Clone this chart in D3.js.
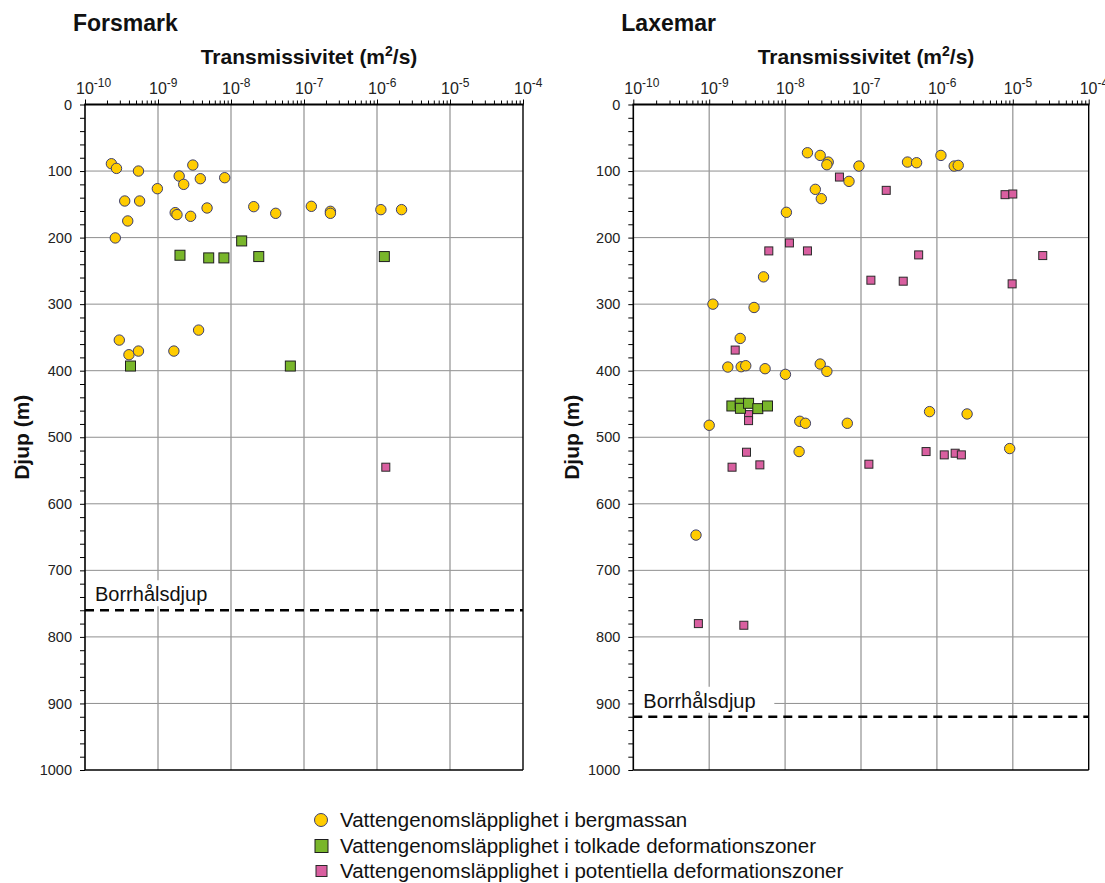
<!DOCTYPE html>
<html>
<head>
<meta charset="utf-8">
<script src="https://cdn.jsdelivr.net/npm/d3@7"></script>
<style>
  html, body { margin: 0; padding: 0; background: #fff; }
  svg { display: block; font-family: "Liberation Sans", Arial, Helvetica, sans-serif; }
</style>
</head>
<body>
<svg id="chart" width="1105" height="883"></svg>
<script>
// ---------- DATA: [transmissivity (m2/s), depth (m)] ----------
const forsmarkRock = [
  [2.3e-10, 89], [2.7e-10, 96], [5.4e-10, 100], [3.0e-9, 91], [1.95e-9, 107.5],
  [2.25e-9, 120], [3.8e-9, 111.5], [8.2e-9, 110], [9.8e-10, 126.5], [3.5e-10, 145],
  [5.6e-10, 145], [1.72e-9, 162.5], [1.82e-9, 165.5], [2.8e-9, 168], [4.7e-9, 155.5],
  [3.85e-10, 175], [2.05e-8, 153.5], [4.1e-8, 163.5], [1.26e-7, 153], [2.3e-7, 160.5],
  [2.3e-7, 163.5], [1.13e-6, 158], [2.17e-6, 158], [2.6e-10, 200.5],
  [2.95e-10, 354], [4.0e-10, 376], [5.4e-10, 370.5], [1.65e-9, 370.5], [3.6e-9, 339]
];
const forsmarkZones = [
  [2.0e-9, 226.5], [4.95e-9, 230.5], [8.0e-9, 230.5], [1.4e-8, 205], [2.4e-8, 228.5],
  [1.26e-6, 228.5], [4.2e-10, 393], [6.5e-8, 393]
];
const forsmarkPotential = [
  [1.32e-6, 545]
];
const laxemarRock = [
  [1.97e-8, 72.5], [2.9e-8, 76.5], [3.7e-8, 86.5], [3.55e-8, 90.5], [9.4e-8, 92.5],
  [6.95e-8, 115.5], [2.5e-8, 127.5], [3.0e-8, 141.5], [1.04e-8, 162], [4.1e-7, 86.5],
  [5.4e-7, 87.5], [1.13e-6, 76.5], [1.69e-6, 92.5], [1.91e-6, 91.5], [5.2e-9, 259],
  [1.12e-9, 300], [3.9e-9, 305], [2.56e-9, 351.5], [1.76e-9, 394.5], [2.64e-9, 394],
  [3.03e-9, 392.5], [5.45e-9, 397], [1.01e-8, 405.5], [2.9e-8, 390], [3.55e-8, 401],
  [1.0e-9, 482], [1.56e-8, 476], [1.85e-8, 479], [6.6e-8, 479], [8.0e-7, 461.5],
  [2.5e-6, 465], [1.53e-8, 521.5], [9.1e-6, 517], [6.7e-10, 647]
];
const laxemarZones = [
  [1.99e-9, 453], [2.56e-9, 449], [2.58e-9, 456.5], [3.3e-9, 449], [4.37e-9, 457], [5.86e-9, 453]
];
const laxemarPotential = [
  [5.2e-8, 109], [2.15e-7, 129], [7.9e-6, 135.5], [1.0e-5, 134.5], [6.1e-9, 220],
  [1.14e-8, 208], [1.97e-8, 220], [5.75e-7, 226], [2.48e-5, 227], [1.35e-7, 264],
  [3.6e-7, 265.5], [9.8e-6, 269.5], [2.2e-9, 369], [3.3e-9, 466], [3.3e-9, 475],
  [3.1e-9, 522.5], [7.2e-7, 521.5], [1.25e-6, 526.5], [1.74e-6, 524], [2.1e-6, 526.5],
  [2.0e-9, 545], [4.65e-9, 541.5], [1.27e-7, 540.5], [7.2e-10, 780], [2.86e-9, 782.5]
];
const boreholeDepth = { Forsmark: 760, Laxemar: 920 };
const decadeExponents = [-10, -9, -8, -7, -6, -5, -4];
const depthTicks = [0, 100, 200, 300, 400, 500, 600, 700, 800, 900, 1000];
const legendLabels = [
  "Vattengenomsläpplighet i bergmassan",
  "Vattengenomsläpplighet i tolkade deformationszoner",
  "Vattengenomsläpplighet i potentiella deformationszoner"
];

// ---------- STYLE ----------
const C = {
  rock: "#FFCC00", rockStroke: "#3d3f6e",
  zone: "#79B62B", zoneStroke: "#1e1e1e",
  pot: "#D95FA0", potStroke: "#2a2a2a",
  grid: "#8f8f8f"
};
const FONT = '"Liberation Sans", Arial, Helvetica, sans-serif';

const svg = d3.select("#chart");

const panels = [
  { name: "Forsmark", x0: 85, x1: 523, rock: forsmarkRock, zones: forsmarkZones, pot: forsmarkPotential, ylabX: 22 },
  { name: "Laxemar", x0: 633.3, x1: 1088.7, rock: laxemarRock, zones: laxemarZones, pot: laxemarPotential, ylabX: 572 }
];
const yTop = 104.5, yBot = 770;

panels.forEach(p => {
  const g = svg.append("g");
  const x = d3.scaleLog().domain([1e-10, 1e-4]).range([p.x0, p.x1]);
  const y = d3.scaleLinear().domain([0, 1000]).range([yTop, yBot]);

  // gridlines
  g.append("g").selectAll("line.h").data(depthTicks.filter(d => d > 0 && d < 1000)).join("line")
    .attr("x1", p.x0).attr("x2", p.x1).attr("y1", d => y(d)).attr("y2", d => y(d))
    .attr("stroke", C.grid).attr("stroke-width", 1);
  g.append("g").selectAll("line.v").data(decadeExponents.slice(1, -1)).join("line")
    .attr("x1", d => x(Math.pow(10, d))).attr("x2", d => x(Math.pow(10, d)))
    .attr("y1", yTop).attr("y2", yBot)
    .attr("stroke", "#9a9a9a").attr("stroke-width", 1.3);

  // borehole depth label with white box
  const bd = boreholeDepth[p.name];
  g.append("rect").attr("x", p.x0 + 1).attr("y", y(bd) - 30).attr("width", 140).attr("height", 26).attr("fill", "#fff");
  g.append("text").attr("x", p.x0 + 10).attr("y", y(bd) - 9)
    .attr("font-size", 20).attr("fill", "#111").text("Borrhålsdjup");
  g.append("line").attr("x1", p.x0).attr("x2", p.x1).attr("y1", y(bd)).attr("y2", y(bd))
    .attr("stroke", "#000").attr("stroke-width", 2.6).attr("stroke-dasharray", "9,6");

  // top axis (minor + major ticks)
  const minor = [];
  for (let e = -10; e < -4; e++) for (let m = 1; m <= 9; m++) minor.push(m * Math.pow(10, e));
  minor.push(1e-4);
  const topAxis = d3.axisTop(x).tickValues(minor).tickFormat("").tickSize(4).tickSizeOuter(0);
  const ta = g.append("g").attr("transform", `translate(0,${yTop})`).call(topAxis);
  ta.select(".domain").remove();
  ta.selectAll(".tick line").attr("stroke", "#000").attr("stroke-width", 1)
    .attr("y2", d => (Math.abs(Math.log10(d) - Math.round(Math.log10(d))) < 1e-9) ? -5 : -4);

  // decade labels
  decadeExponents.forEach(e => {
    const t = g.append("text").attr("x", x(Math.pow(10, e)) - 9).attr("y", 94)
      .attr("font-size", 16).attr("fill", "#222");
    t.append("tspan").text("10");
    t.append("tspan").attr("dy", -7).attr("font-size", 12).text(String(e));
  });

  // left axis
  const leftAxis = d3.axisLeft(y).tickValues(d3.range(0, 1001, 20))
    .tickFormat(d => d % 100 === 0 ? d : "").tickSize(5).tickPadding(8).tickSizeOuter(0);
  const la = g.append("g").attr("transform", `translate(${p.x0},0)`).call(leftAxis);
  la.select(".domain").remove();
  la.selectAll(".tick line").attr("stroke", "#000").attr("stroke-width", 1);
  la.selectAll(".tick text").attr("font-size", 14.5).attr("font-family", FONT).attr("fill", "#222");

  // frame
  g.append("line").attr("x1", p.x0).attr("x2", p.x0).attr("y1", yTop).attr("y2", yBot).attr("stroke", "#000").attr("stroke-width", 1.6);
  g.append("line").attr("x1", p.x1).attr("x2", p.x1).attr("y1", yTop).attr("y2", yBot).attr("stroke", "#000").attr("stroke-width", 1.4);
  g.append("line").attr("x1", p.x0).attr("x2", p.x1).attr("y1", yBot).attr("y2", yBot).attr("stroke", "#000").attr("stroke-width", 1.6);
  g.append("line").attr("x1", p.x0 - 0.8).attr("x2", p.x1 + 0.7).attr("y1", yTop).attr("y2", yTop).attr("stroke", "#000").attr("stroke-width", 2.2);

  // marks
  const ps = 8;
  g.append("g").selectAll("rect").data(p.pot).join("rect")
    .attr("x", d => x(d[0]) - ps / 2).attr("y", d => y(d[1]) - ps / 2)
    .attr("width", ps).attr("height", ps)
    .attr("fill", C.pot).attr("stroke", C.potStroke).attr("stroke-width", 1);
  const zs = 10;
  g.append("g").selectAll("rect").data(p.zones).join("rect")
    .attr("x", d => x(d[0]) - zs / 2).attr("y", d => y(d[1]) - zs / 2)
    .attr("width", zs).attr("height", zs)
    .attr("fill", C.zone).attr("stroke", C.zoneStroke).attr("stroke-width", 1);
  g.append("g").selectAll("circle").data(p.rock).join("circle")
    .attr("cx", d => x(d[0])).attr("cy", d => y(d[1])).attr("r", 5.2)
    .attr("fill", C.rock).attr("stroke", C.rockStroke).attr("stroke-width", 1);

  // titles
  g.append("text").attr("x", p.x0 - 12).attr("y", 31).attr("font-size", 23).attr("font-weight", "bold")
    .attr("fill", "#111").text(p.name);
  const at = g.append("text").attr("x", (p.x0 + p.x1) / 2 + 5).attr("y", 64).attr("text-anchor", "middle")
    .attr("font-size", 21).attr("font-weight", "bold").attr("fill", "#111");
  at.append("tspan").text("Transmissivitet (m");
  at.append("tspan").attr("dy", -8).attr("font-size", 14).text("2");
  at.append("tspan").attr("dy", 8).text("/s)");

  svg.append("text").attr("transform", `translate(${p.ylabX + 7},${(yTop + yBot) / 2}) rotate(-90)`)
    .attr("text-anchor", "middle").attr("font-size", 21).attr("font-weight", "bold").attr("fill", "#111")
    .text("Djup (m)");
});

// ---------- LEGEND ----------
const lg = svg.append("g");
const rows = [820, 846, 871];
lg.append("circle").attr("cx", 321).attr("cy", rows[0]).attr("r", 6.5)
  .attr("fill", C.rock).attr("stroke", C.rockStroke).attr("stroke-width", 1);
lg.append("rect").attr("x", 315).attr("y", rows[1] - 6.5).attr("width", 13).attr("height", 13)
  .attr("fill", C.zone).attr("stroke", C.zoneStroke).attr("stroke-width", 1);
lg.append("rect").attr("x", 316).attr("y", rows[2] - 5.5).attr("width", 11).attr("height", 11)
  .attr("fill", C.pot).attr("stroke", C.potStroke).attr("stroke-width", 1);
legendLabels.forEach((t, i) => {
  lg.append("text").attr("x", 340).attr("y", rows[i] + 7).attr("font-size", 20.5).attr("fill", "#111").text(t);
});
</script>
</body>
</html>
